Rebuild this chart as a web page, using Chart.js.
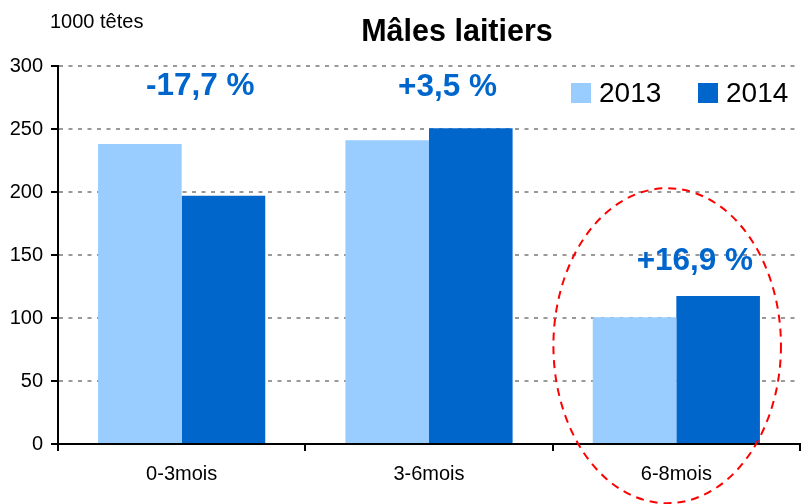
<!DOCTYPE html>
<html>
<head>
<meta charset="utf-8">
<script src="https://cdn.jsdelivr.net/npm/chart.js@4.4.0/dist/chart.umd.min.js"></script>
<style>
  html, body { margin: 0; padding: 0; background: #fff; }
  #wrap { position: relative; width: 805px; height: 504px; }
</style>
</head>
<body>
<div id="wrap"><canvas id="c" width="805" height="504"></canvas></div>
<script>
const categories = ['0-3mois', '3-6mois', '6-8mois'];
const seriesLabels = ['2013', '2014'];
const values2013 = [238, 241, 100.5];
const values2014 = [197, 250.5, 117.5];
const changeLabels = ['-17,7 %', '+3,5 %', '+16,9 %'];
const changeLabelValues = [284, 283, 145];
const yTicks = [0, 50, 100, 150, 200, 250, 300];
const titleText = 'Mâles laitiers';
const unitText = '1000 têtes';

const FONT = '"Liberation Sans", Arial, sans-serif';
const LIGHT = '#99CCFF';
const DARK = '#0066CC';

const overlay = {
  id: 'overlay',
  afterDraw(chart) {
    const ctx = chart.ctx;
    const area = chart.chartArea;
    const xs = chart.scales.x, ys = chart.scales.y;
    ctx.save();
    // title
    ctx.fillStyle = '#000';
    ctx.font = 'bold 30.5px ' + FONT;
    ctx.textAlign = 'center';
    ctx.textBaseline = 'middle';
    ctx.fillText(titleText, 457, 33);
    // unit
    ctx.font = '20px ' + FONT;
    ctx.textAlign = 'left';
    ctx.fillText(unitText, 50, 22);
    // change labels
    ctx.font = 'bold 31.5px ' + FONT;
    ctx.fillStyle = DARK;
    ctx.textAlign = 'center';
    const cw = xs.getPixelForValue(1) - xs.getPixelForValue(0);
    changeLabels.forEach((t, i) => {
      ctx.fillText(t, xs.getPixelForValue(i) + cw * 0.075, ys.getPixelForValue(changeLabelValues[i]));
    });
    // legend
    const ds = chart.data.datasets;
    const lx = [area.right - 229, area.right - 102];
    ctx.font = '28px ' + FONT;
    ctx.textAlign = 'left';
    ds.forEach((d, i) => {
      ctx.fillStyle = d.backgroundColor;
      ctx.fillRect(lx[i], 83, 20, 20);
      ctx.fillStyle = '#000';
      ctx.fillText(d.label, lx[i] + 28, 94);
    });
    // red dashed ellipse around last category
    const cx = xs.getPixelForValue(2) - cw * 0.037;
    const cy = ys.getPixelForValue(78);
    const ry = cy - ys.getPixelForValue(203);
    const rx = cw * 0.46;
    ctx.beginPath();
    ctx.setLineDash([8, 6]);
    ctx.strokeStyle = '#FF0000';
    ctx.lineWidth = 2;
    ctx.ellipse(cx, cy, rx, ry, 0, 0, Math.PI * 2);
    ctx.stroke();
    ctx.restore();
  }
};

new Chart(document.getElementById('c'), {
  type: 'bar',
  data: {
    labels: categories,
    datasets: [
      { label: seriesLabels[0], data: values2013, backgroundColor: LIGHT, borderWidth: 0 },
      { label: seriesLabels[1], data: values2014, backgroundColor: DARK, borderWidth: 0 }
    ]
  },
  options: {
    responsive: false,
    animation: false,
    devicePixelRatio: 1,
    layout: { padding: { top: 66, right: 5, left: 0, bottom: 0 } },
    datasets: { bar: { categoryPercentage: 0.676, barPercentage: 1.0 } },
    plugins: { legend: { display: false }, title: { display: false }, tooltip: { enabled: false } },
    scales: {
      x: {
        grid: { display: true, drawOnChartArea: false, offset: true, color: '#000', lineWidth: 2, tickLength: 7 },
        border: { display: true, color: '#000', width: 2 },
        ticks: { color: '#000', font: { family: FONT, size: 20 }, padding: 11 },
        afterFit(scale) { scale.height = 60; }
      },
      y: {
        min: 0, max: 300,
        afterBuildTicks(scale) { scale.ticks = yTicks.map(v => ({ value: v })); },
        grid: { color: '#999999', lineWidth: 2, tickLength: 7, tickColor: '#000', tickBorderDash: [], tickWidth: 2 },
        border: { display: true, color: '#000', width: 2, dash: [4, 5.5] },
        ticks: { color: '#000', font: { family: FONT, size: 20 }, padding: 8 },
        afterFit(scale) { scale.width = 58; }
      }
    }
  },
  plugins: [overlay]
});
</script>
</body>
</html>
